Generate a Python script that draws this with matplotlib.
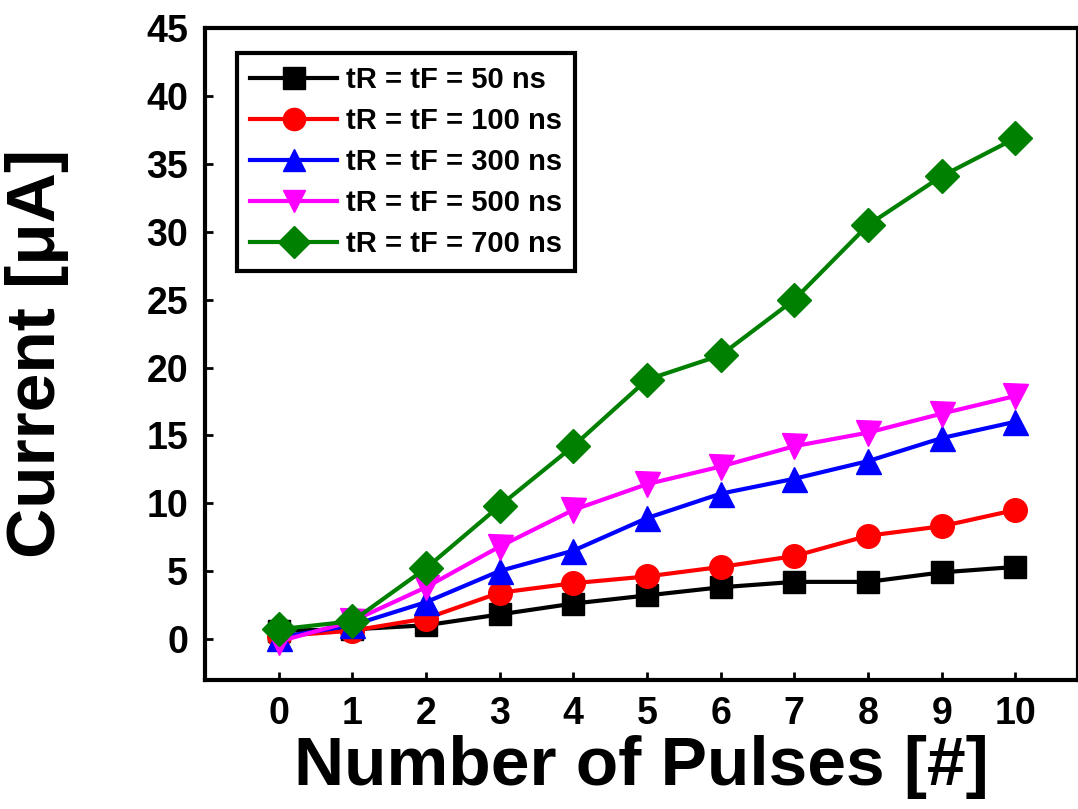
import numpy as np
import matplotlib.pyplot as plt

# pulse count on the x axis
pulses = np.arange(0, 11)

# measured current [uA] for each rise/fall time
i_50ns = [0.6, 0.7, 1.0, 1.8, 2.6, 3.2, 3.8, 4.2, 4.2, 4.9, 5.3]
i_100ns = [0.2, 0.6, 1.5, 3.4, 4.1, 4.6, 5.3, 6.1, 7.6, 8.3, 9.5]
i_300ns = [0.1, 1.0, 2.7, 5.0, 6.5, 8.9, 10.7, 11.8, 13.1, 14.8, 16.0]
i_500ns = [-0.2, 1.3, 3.8, 6.8, 9.5, 11.4, 12.7, 14.2, 15.2, 16.6, 17.9]
i_700ns = [0.7, 1.3, 5.2, 9.8, 14.2, 19.1, 20.9, 25.0, 30.5, 34.1, 36.9]

labels = ["tR = tF = 50 ns", "tR = tF = 100 ns", "tR = tF = 300 ns",
          "tR = tF = 500 ns", "tR = tF = 700 ns"]
xtick_labels = [str(i) for i in range(11)]
yticks = list(range(0, 46, 5))

plt.rcParams["font.family"] = ["Liberation Sans", "DejaVu Sans"]
plt.rcParams["font.weight"] = "bold"

fig = plt.figure(figsize=(10.78, 8.09), dpi=100)
ax = fig.add_axes([0.19, 0.16, 0.81, 0.805])

series = [
    (i_50ns, "black", "s", 16),
    (i_100ns, "red", "o", 17),
    (i_300ns, "blue", "^", 18),
    (i_500ns, "magenta", "v", 18),
    (i_700ns, "green", "D", 17),
]
for (vals, color, marker, ms), lab in zip(series, labels):
    ax.plot(pulses, vals, color=color, marker=marker, markersize=ms,
            linewidth=3, label=lab)

ax.set_xlim(-1, 10.85)
ax.set_ylim(-3, 45)
ax.set_xticks(pulses, labels=xtick_labels)
ax.set_yticks(yticks)
ax.tick_params(direction="in", length=6, width=2, labelsize=27,
               top=False, right=False, pad=12)
for side in ax.spines.values():
    side.set_linewidth(3)

ax.set_xlabel("Number of Pulses [#]", fontsize=50, fontweight="bold", labelpad=2)
ax.set_ylabel("Current [\u03bcA]", fontsize=50, fontweight="bold", labelpad=56)

leg = ax.legend(loc="upper left", fontsize=21, frameon=True, fancybox=False,
                edgecolor="black", framealpha=1, handlelength=3.0,
                borderpad=0.45, labelspacing=0.45, handletextpad=0.3,
                bbox_to_anchor=(0.02, 0.985))
leg.get_frame().set_linewidth(3)
for h in leg.legend_handles:
    h.set_markersize(16)

fig.savefig("out.png", dpi=100)
